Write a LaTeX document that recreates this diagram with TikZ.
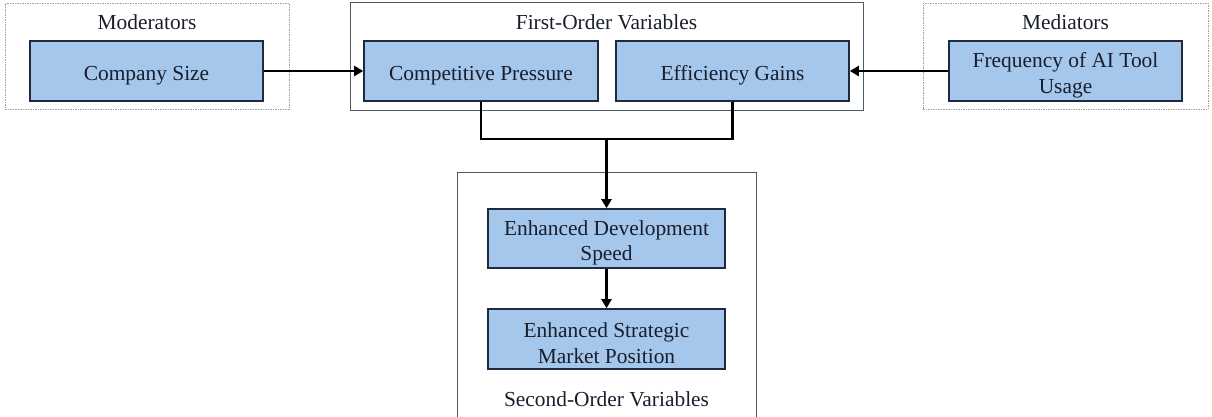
\documentclass[tikz,border=0pt]{standalone}
\usepackage{fontspec}
\setmainfont{Liberation Serif}
\usetikzlibrary{arrows.meta}
\definecolor{boxfill}{RGB}{164,199,235}
\definecolor{boxline}{RGB}{30,42,64}
\definecolor{frameline}{RGB}{80,90,100}
\definecolor{dashline}{RGB}{160,160,160}
\definecolor{textcol}{RGB}{25,30,45}

\begin{document}
\begin{tikzpicture}[x=1pt,y=-1pt,
  labelfont/.style={font=\fontsize{21.4}{25.7}\selectfont},
  boxlabel/.style={align=center, text=textcol, labelfont, inner sep=0pt, yshift=-4.3pt},
  varbox/.style={draw=boxline, line width=1.6pt, fill=boxfill, inner sep=0pt,
    label={[boxlabel]center:{#1}}},
  frame/.style={draw=frameline, line width=1pt, inner sep=0pt},
  softframe/.style={draw=dashline, line width=0.8pt, dash pattern=on 1.5pt off 1pt, inner sep=0pt},
  caption/.style={text=textcol, labelfont, inner sep=0pt},
  wire/.style={line width=2.5pt, black, line join=miter},
  link/.style={wire, -{Triangle[length=9pt,width=10pt]}}]

\useasboundingbox (0,0) rectangle (1212,416);

% group frames
\node[softframe, minimum width=284pt, minimum height=106pt] (modframe) at (147,56) {};
\node[frame, minimum width=513pt, minimum height=108pt] (firstframe) at (606.5,56) {};
\node[softframe, minimum width=285pt, minimum height=106pt] (medframe) at (1065.5,56) {};
\node[frame, minimum width=299pt, minimum height=257pt] (secondframe) at (606.5,300.5) {};

% group captions
\node[caption] (modcap) at (147,22) {Moderators};
\node[caption] (firstcap) at (606.5,22) {First-Order Variables};
\node[caption] (medcap) at (1065.5,22) {Mediators};
\node[caption] (secondcap) at (606.5,399) {Second-Order Variables};

% variables
\node[varbox={Company Size}, minimum width=233pt, minimum height=60pt] (cs) at (146.5,71) {};
\node[varbox={Competitive Pressure}, minimum width=234pt, minimum height=60pt] (cp) at (481,71) {};
\node[varbox={Efficiency Gains}, minimum width=233pt, minimum height=60pt] (eg) at (732.5,71) {};
\node[varbox={Frequency of AI Tool\\Usage}, minimum width=233pt, minimum height=60pt] (fq) at (1065.5,71) {};
\node[varbox={Enhanced Development\\Speed}, minimum width=237pt, minimum height=59pt] (dev) at (606.5,238.5) {};
\node[varbox={Enhanced Strategic\\Market Position}, minimum width=237pt, minimum height=60pt] (strat) at (606.5,339) {};

% connectors
\coordinate (join) at (606.5,139);
\draw[link] (cs.east) -- (cp.west);
\draw[link] (fq.west) -- (eg.east);
\draw[wire] (cp.south) |- (join) -| (eg.south);
\draw[link] (join) -- (dev.north);
\draw[link] (dev.south) -- (strat.north);
\end{tikzpicture}
\end{document}
